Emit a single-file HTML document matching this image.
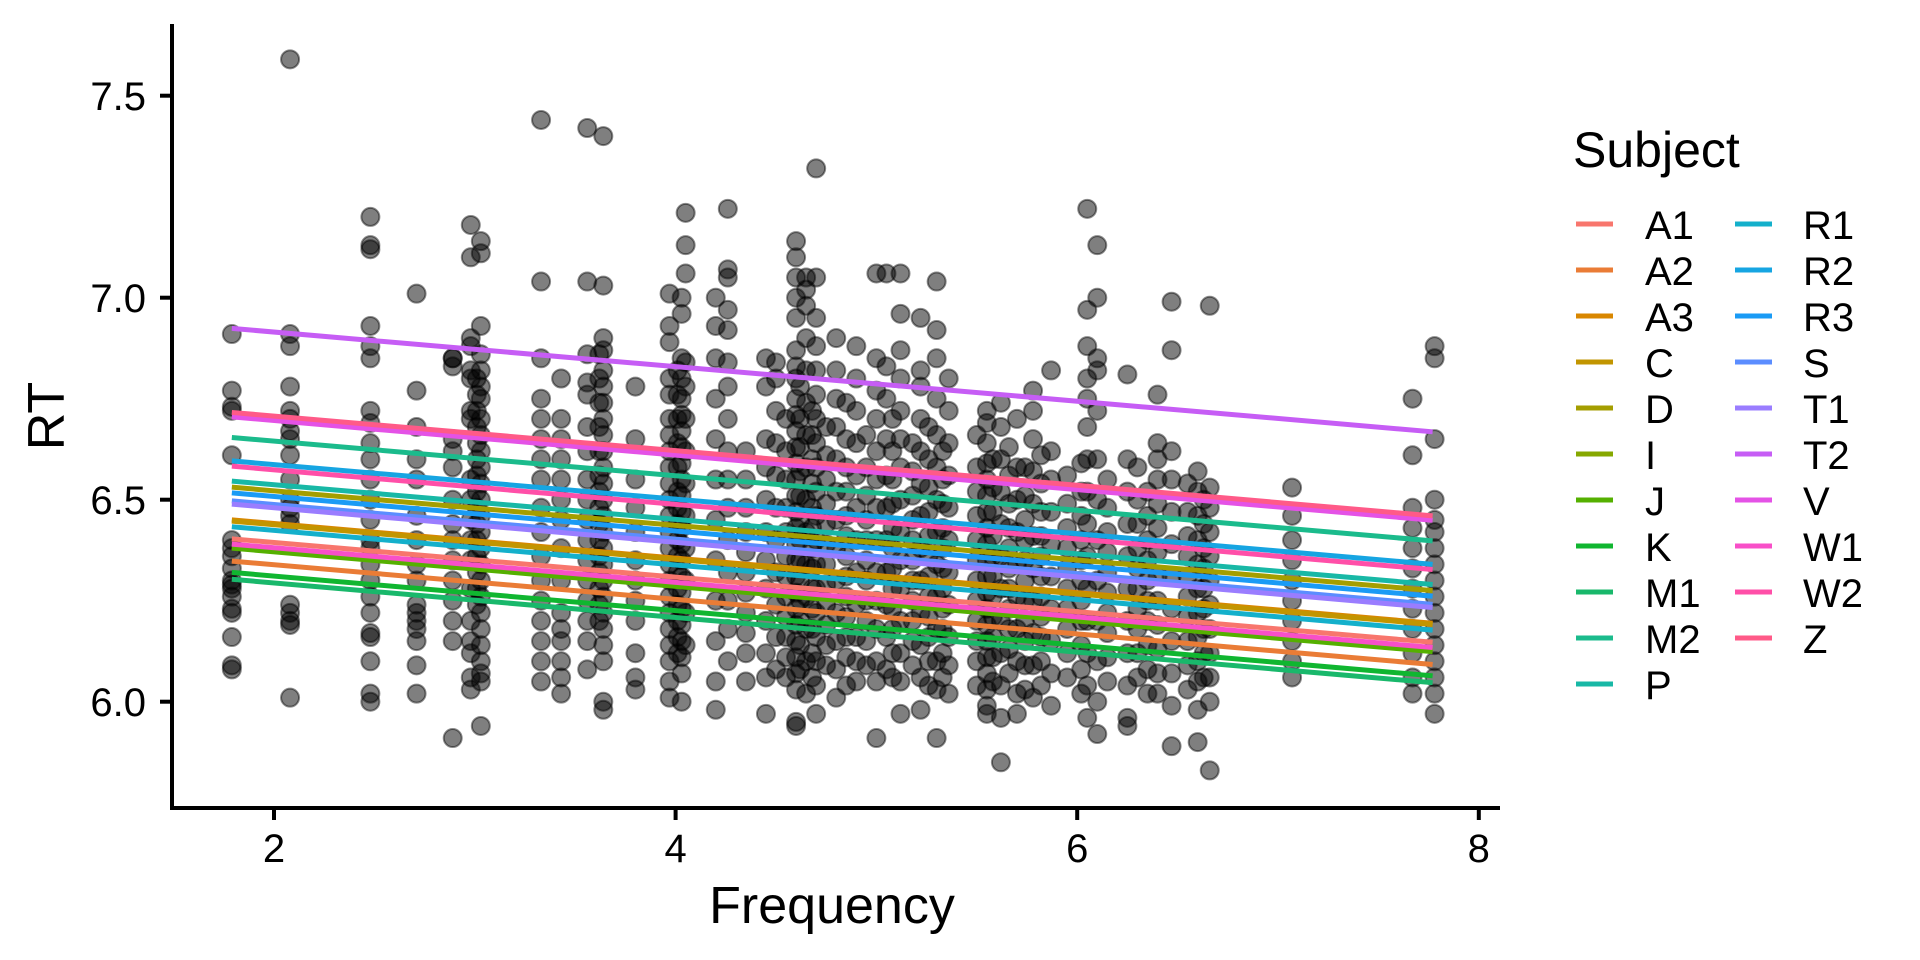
<!DOCTYPE html>
<html><head><meta charset="utf-8"><title>RT vs Frequency</title>
<style>
html,body{margin:0;padding:0;background:#fff;}
svg{display:block;font-family:"Liberation Sans",Arial,sans-serif;}
</style></head>
<body>
<svg id="chart" width="1920" height="960" viewBox="0 0 1920 960">
  <g id="points"></g>
  <g id="lines"></g>
  <g id="axes"></g>
  <g id="legend"></g>
</svg>
<script>
// ---- data ----
const columnFreq = [1.79,2.08,2.48,2.71,2.89,2.98,3.03,3.33,3.43,3.56,3.64,3.8,3.97,4.03,4.05,4.2,4.26,4.45,4.5,4.6,4.65,4.7,4.8,4.9,5.0,5.05,5.12,5.22,5.3,5.36,5.55,5.62,5.7,5.78,5.87,6.05,6.1,6.25,6.4,6.47,6.6,6.66,7.07,7.67,7.78,
  3.01,3.62,4.01,4.35,4.55,4.62,4.68,4.75,4.85,4.95,5.08,5.18,5.26,5.33,5.5,5.58,5.66,5.74,5.82,5.95,6.02,6.15,6.3,6.35,6.55,6.63];
const columnRT = [
[6.91,6.77,6.73,6.72,6.61,6.40,6.38,6.36,6.33,6.30,6.29,6.28,6.26,6.23,6.22,6.16,6.09,6.08],
[7.59,6.91,6.88,6.78,6.72,6.70,6.67,6.65,6.61,6.55,6.50,6.48,6.46,6.44,6.24,6.22,6.20,6.19,6.01],
[7.20,7.13,7.12,6.93,6.88,6.85,6.72,6.69,6.64,6.60,6.55,6.50,6.45,6.40,6.38,6.34,6.30,6.26,6.22,6.17,6.16,6.10,6.02,6.00],
[7.01,6.77,6.68,6.60,6.55,6.46,6.40,6.34,6.30,6.24,6.22,6.20,6.18,6.15,6.09,6.02],
[6.85,6.85,6.83,6.65,6.62,6.58,6.50,6.44,6.40,6.35,6.30,6.25,6.20,6.15,5.91],
[7.18,7.10,6.90,6.88,6.82,6.80,6.72,6.70,6.55,6.50,6.45,6.40,6.35,6.28,6.20,6.15,6.12,6.06,6.03],
[7.14,7.11,6.93,6.86,6.82,6.78,6.75,6.70,6.66,6.62,6.58,6.54,6.50,6.46,6.42,6.38,6.34,6.30,6.26,6.22,6.18,6.14,6.10,6.07,6.05,5.94],
[7.44,7.04,6.85,6.75,6.70,6.65,6.60,6.55,6.48,6.42,6.36,6.30,6.25,6.20,6.15,6.10,6.05],
[6.80,6.70,6.65,6.60,6.55,6.50,6.45,6.38,6.30,6.22,6.18,6.15,6.10,6.06,6.02],
[7.42,7.04,6.86,6.79,6.76,6.68,6.62,6.55,6.50,6.45,6.40,6.35,6.30,6.25,6.20,6.15,6.08],
[7.40,7.03,6.90,6.87,6.82,6.78,6.74,6.70,6.66,6.62,6.58,6.54,6.50,6.46,6.42,6.38,6.34,6.30,6.26,6.22,6.18,6.14,6.10,6.00,5.98],
[6.78,6.65,6.55,6.48,6.42,6.35,6.30,6.25,6.20,6.12,6.06,6.03],
[7.01,6.93,6.89,6.80,6.76,6.70,6.66,6.62,6.58,6.54,6.50,6.46,6.42,6.38,6.34,6.30,6.26,6.22,6.18,6.14,6.10,6.05,6.01],
[7.00,6.96,6.85,6.80,6.75,6.71,6.67,6.63,6.59,6.55,6.51,6.47,6.43,6.39,6.35,6.31,6.27,6.23,6.19,6.15,6.11,6.07,6.00],
[7.21,7.13,7.06,6.84,6.78,6.70,6.62,6.54,6.46,6.38,6.30,6.22,6.14],
[7.00,6.93,6.85,6.75,6.65,6.55,6.45,6.35,6.25,6.15,6.05,5.98],
[7.22,7.07,7.05,6.97,6.92,6.84,6.78,6.70,6.62,6.55,6.48,6.40,6.32,6.25,6.18,6.10],
[6.85,6.78,6.65,6.58,6.50,6.42,6.35,6.28,6.20,6.12,6.06,5.97],
[6.84,6.80,6.72,6.64,6.56,6.48,6.40,6.32,6.24,6.16,6.08],
[7.14,7.10,7.05,7.00,6.95,6.87,6.83,6.80,6.75,6.71,6.67,6.63,6.59,6.55,6.51,6.47,6.43,6.39,6.35,6.31,6.27,6.23,6.19,6.15,6.11,6.07,6.03,5.95,5.94],
[7.05,7.02,6.98,6.90,6.82,6.74,6.66,6.58,6.50,6.42,6.34,6.26,6.18,6.10,6.02],
[7.32,7.05,6.95,6.88,6.82,6.76,6.70,6.64,6.58,6.52,6.46,6.40,6.34,6.28,6.22,6.16,6.10,6.04,5.97],
[6.90,6.82,6.75,6.68,6.60,6.52,6.45,6.38,6.30,6.22,6.15,6.08,6.01],
[6.88,6.80,6.72,6.64,6.56,6.48,6.40,6.32,6.24,6.16,6.10,6.05],
[7.06,6.85,6.77,6.70,6.62,6.55,6.48,6.40,6.32,6.25,6.18,6.10,6.05,5.91],
[7.06,6.83,6.75,6.65,6.56,6.48,6.40,6.32,6.24,6.16,6.08],
[7.06,6.96,6.87,6.80,6.72,6.65,6.58,6.50,6.42,6.35,6.28,6.20,6.12,6.05,5.97],
[6.95,6.82,6.78,6.70,6.62,6.54,6.46,6.38,6.30,6.22,6.14,6.06,5.98],
[7.04,6.92,6.85,6.75,6.66,6.58,6.50,6.42,6.34,6.26,6.18,6.10,6.03,5.91],
[6.80,6.72,6.64,6.56,6.48,6.40,6.32,6.24,6.16,6.09,6.02],
[6.72,6.69,6.64,6.59,6.55,6.51,6.47,6.43,6.39,6.35,6.31,6.27,6.23,6.19,6.15,6.11,6.07,6.03,5.99,5.97],
[6.74,6.68,6.60,6.52,6.44,6.36,6.28,6.20,6.12,6.04,5.96,5.85],
[6.70,6.58,6.50,6.42,6.34,6.26,6.18,6.10,6.02,5.97],
[6.77,6.72,6.65,6.57,6.49,6.41,6.33,6.25,6.17,6.09,6.01],
[6.82,6.62,6.55,6.47,6.39,6.31,6.23,6.15,6.07,5.99],
[7.22,6.97,6.88,6.80,6.75,6.68,6.60,6.52,6.44,6.36,6.28,6.20,6.12,6.04,5.96],
[7.13,7.00,6.85,6.82,6.72,6.60,6.50,6.40,6.30,6.20,6.10,6.00,5.92],
[6.81,6.60,6.52,6.44,6.36,6.28,6.20,6.12,6.04,5.96,5.94],
[6.76,6.64,6.60,6.55,6.49,6.43,6.37,6.31,6.25,6.19,6.13,6.07,6.02],
[6.99,6.87,6.62,6.55,6.47,6.39,6.31,6.23,6.15,6.07,5.99,5.89],
[6.57,6.52,6.46,6.40,6.34,6.28,6.22,6.16,6.10,6.05,5.98,5.90],
[6.98,6.53,6.48,6.42,6.36,6.30,6.24,6.18,6.12,6.06,6.00,5.83],
[6.53,6.46,6.40,6.35,6.30,6.25,6.20,6.15,6.10,6.06],
[6.75,6.61,6.48,6.43,6.38,6.33,6.28,6.23,6.18,6.12,6.06,6.02],
[6.88,6.85,6.65,6.50,6.45,6.42,6.38,6.34,6.30,6.26,6.22,6.18,6.14,6.10,6.06,6.02,5.97],
[6.80,6.76,6.72,6.68,6.64,6.60,6.56,6.52,6.48,6.44,6.40,6.36,6.32,6.28,6.24],
[6.86,6.80,6.74,6.68,6.62,6.56,6.52,6.48,6.44,6.40,6.36,6.32,6.28,6.24,6.20],
[6.82,6.76,6.70,6.64,6.58,6.52,6.48,6.44,6.40,6.36,6.32,6.28,6.24,6.20,6.16,6.12],
[6.62,6.55,6.48,6.42,6.37,6.32,6.27,6.22,6.17,6.12,6.05],
[6.70,6.62,6.55,6.48,6.42,6.36,6.31,6.26,6.21,6.16,6.11,6.06],
[6.78,6.70,6.63,6.57,6.51,6.45,6.40,6.35,6.30,6.25,6.20,6.14,6.08],
[6.72,6.66,6.60,6.54,6.48,6.43,6.38,6.33,6.28,6.23,6.18,6.12,6.06],
[6.68,6.61,6.55,6.49,6.44,6.39,6.34,6.29,6.24,6.19,6.14,6.09],
[6.74,6.65,6.58,6.52,6.46,6.41,6.36,6.31,6.26,6.21,6.16,6.11,6.04],
[6.66,6.58,6.51,6.45,6.40,6.35,6.30,6.25,6.20,6.15,6.09],
[6.70,6.62,6.55,6.49,6.43,6.38,6.33,6.28,6.23,6.18,6.12,6.06],
[6.64,6.57,6.51,6.45,6.40,6.35,6.30,6.25,6.20,6.15,6.09],
[6.68,6.60,6.53,6.47,6.41,6.36,6.31,6.26,6.21,6.16,6.10,6.04],
[6.62,6.55,6.49,6.43,6.38,6.33,6.28,6.23,6.18,6.12,6.06],
[6.66,6.58,6.52,6.46,6.40,6.35,6.30,6.25,6.20,6.15,6.10,6.04],
[6.60,6.53,6.47,6.41,6.36,6.31,6.26,6.21,6.16,6.11,6.05],
[6.63,6.56,6.49,6.43,6.38,6.33,6.28,6.23,6.18,6.13,6.07],
[6.58,6.51,6.45,6.40,6.35,6.30,6.25,6.20,6.15,6.09,6.03],
[6.61,6.54,6.47,6.41,6.36,6.31,6.26,6.21,6.16,6.10,6.04],
[6.56,6.49,6.43,6.38,6.33,6.28,6.23,6.18,6.12,6.06],
[6.59,6.52,6.46,6.40,6.35,6.30,6.25,6.20,6.14,6.08,6.02],
[6.55,6.48,6.42,6.37,6.32,6.27,6.22,6.17,6.11,6.05],
[6.58,6.50,6.44,6.38,6.33,6.28,6.23,6.18,6.12,6.06],
[6.52,6.46,6.40,6.35,6.30,6.25,6.20,6.14,6.08,6.02],
[6.54,6.47,6.41,6.36,6.31,6.26,6.21,6.15,6.09,6.03],
[6.50,6.44,6.38,6.33,6.28,6.23,6.18,6.12,6.06],
[6.52,6.45,6.39,6.34,6.29,6.24,6.19,6.13,6.07,6.01]
];
const subjects = ["A1","A2","A3","C","D","I","J","K","M1","M2","P","R1","R2","R3","S","T1","T2","V","W1","W2","Z"];
const subjectColors = ["#F8766D","#EA7C36","#D98700","#C29500","#A49E00","#86A800","#55B000","#10B630","#19B86B","#1BBB8C","#18B8A6","#14B0CB","#16A5E2","#1A9BF5","#5B8DFF","#9A7DFF","#C65DF5","#E452E6","#F84FC8","#FF4FA8","#FF5A88"];
const subjectIntercepts = [6.403,6.348,6.450,6.447,6.531,6.382,6.380,6.320,6.303,6.654,6.546,6.433,6.596,6.517,6.497,6.489,6.924,6.705,6.390,6.583,6.716];
const commonSlope = [-0.0428];
const lineFreqRange = [1.79,7.77];
const xTicks = [2,4,6,8];
const yTicks = [6.0,6.5,7.0,7.5];

// ---- scales ----
const NS = "http://www.w3.org/2000/svg";
function xs(v){ return 274 + (v-2)*200.8; }
function ys(v){ return 701.7 - (v-6)*404; }
function mk(tag, attrs, parent){
  const e = document.createElementNS(NS, tag);
  for (const k in attrs) e.setAttribute(k, attrs[k]);
  parent.appendChild(e);
  return e;
}

// points
const gp = document.getElementById('points');
columnFreq.forEach((f, i) => {
  columnRT[i].forEach(rt => {
    const c = mk('circle', {cx: xs(f), cy: ys(rt), r: 9, fill: 'rgba(0,0,0,0.5)', stroke: 'rgba(0,0,0,0.45)', 'stroke-width': 2}, gp);
    
    
  });
});

// lines
const gl = document.getElementById('lines');
subjects.forEach((s, i) => {
  const y0 = subjectIntercepts[i];
  const y1 = y0 + commonSlope[0]*(lineFreqRange[1]-lineFreqRange[0]);
  const l = mk('line', {x1: xs(lineFreqRange[0]), y1: ys(y0), x2: xs(lineFreqRange[1]), y2: ys(y1), stroke: subjectColors[i], 'stroke-width': 5}, gl);
  
  
});

// axes
const ga = document.getElementById('axes');
const yAxis = mk('line', {x1: 172, y1: 24, x2: 172, y2: 810, stroke: '#000', 'stroke-width': 4}, ga);


const xAxis = mk('line', {x1: 170, y1: 808, x2: 1500, y2: 808, stroke: '#000', 'stroke-width': 4}, ga);


xTicks.forEach(t => {
  const tk = mk('line', {x1: xs(t), y1: 808, x2: xs(t), y2: 820, stroke: '#000', 'stroke-width': 4}, ga);
  
  
  const tx = mk('text', {x: xs(t), y: 862, 'font-size': 40, 'text-anchor': 'middle', fill: '#000'}, ga);
  tx.textContent = String(t);
  
  
});
yTicks.forEach(t => {
  const tk = mk('line', {x1: 160, y1: ys(t), x2: 172, y2: ys(t), stroke: '#000', 'stroke-width': 4}, ga);
  
  
  const tx = mk('text', {x: 146, y: ys(t)+14.5, 'font-size': 40, 'text-anchor': 'end', fill: '#000'}, ga);
  tx.textContent = t.toFixed(1);
  
  
});
const xt = mk('text', {x: 832, y: 923, 'font-size': 52, 'text-anchor': 'middle', fill: '#000'}, ga);
xt.textContent = 'Frequency';


const yt = mk('text', {x: 0, y: 0, 'font-size': 52, 'text-anchor': 'middle', fill: '#000', transform: 'translate(64,416) rotate(-90)'}, ga);
yt.textContent = 'RT';



// legend
const gleg = document.getElementById('legend');
const lt = mk('text', {x: 1573, y: 167, 'font-size': 50, fill: '#000'}, gleg);
lt.textContent = 'Subject';


subjects.forEach((s, i) => {
  const col = i < 11 ? 0 : 1;
  const row = i < 11 ? i : i - 11;
  const cy = 224 + row*46;
  const kx = col === 0 ? 1576 : 1735;
  const lx = col === 0 ? 1645 : 1803;
  const g = mk('g', {}, gleg);
  
  
  mk('line', {x1: kx, y1: cy, x2: kx+37, y2: cy, stroke: subjectColors[i], 'stroke-width': 5}, g);
  const t = mk('text', {x: lx, y: cy+15, 'font-size': 40, fill: '#000'}, g);
  t.textContent = s;
});
</script>
</body></html>
